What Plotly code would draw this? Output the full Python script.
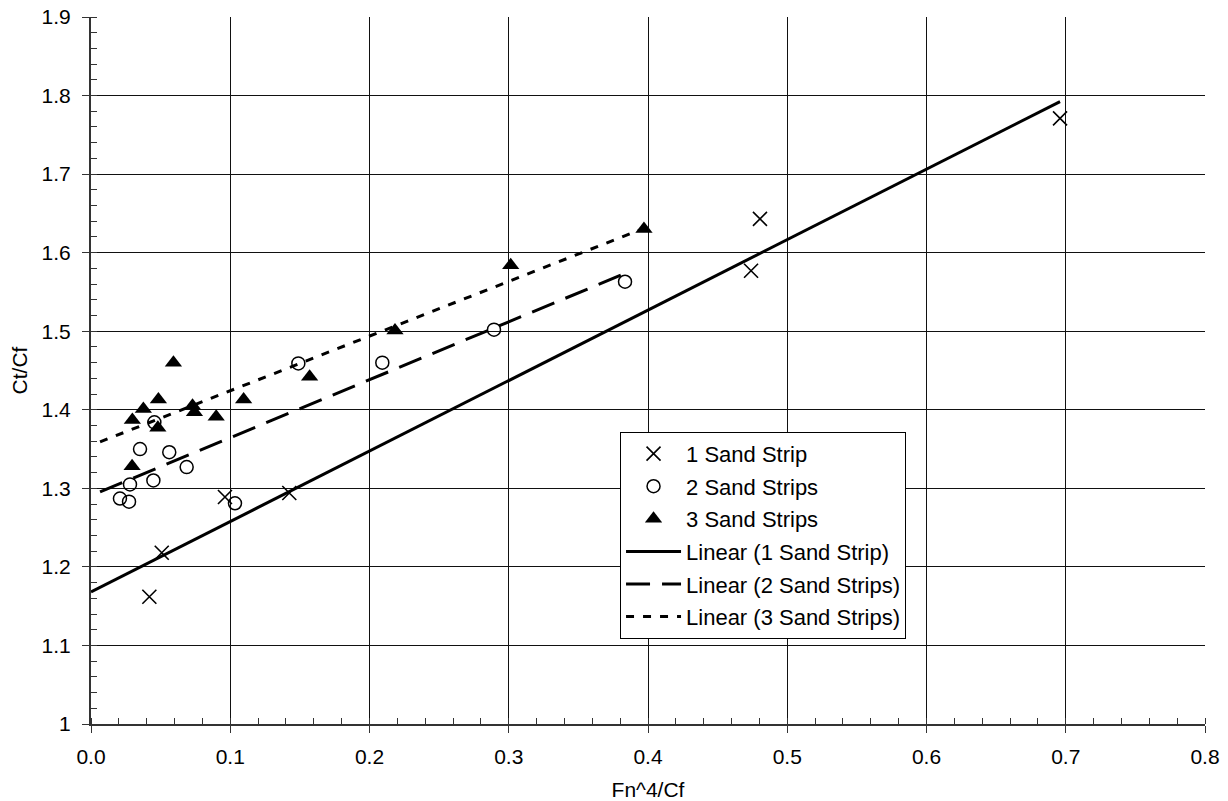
import numpy as np
import plotly.graph_objects as go

# ---- data ----
x1 = [0.0419, 0.0508, 0.0962, 0.1424, 0.4740, 0.4804, 0.6959]
y1 = [1.162, 1.218, 1.289, 1.294, 1.577, 1.643, 1.771]

x2 = [0.0208, 0.0273, 0.0280, 0.0352, 0.0455, 0.0448, 0.0562, 0.0687,
      0.1034, 0.1489, 0.2092, 0.2894, 0.3835]
y2 = [1.287, 1.283, 1.305, 1.350, 1.384, 1.310, 1.346, 1.327,
      1.281, 1.459, 1.460, 1.502, 1.563]

x3 = [0.0295, 0.0297, 0.0376, 0.0480, 0.0484, 0.0592, 0.0729, 0.0743,
      0.0899, 0.1096, 0.1570, 0.2183, 0.3014, 0.3971]
y3 = [1.328, 1.387, 1.401, 1.377, 1.413, 1.460, 1.405, 1.397,
      1.391, 1.413, 1.442, 1.501, 1.584, 1.630]

series_names = ["1 Sand Strip", "2 Sand Strips", "3 Sand Strips"]
trend_start = [0.0, 0.0065, 0.0065]   # where each trendline begins

x_ticks = [0.0, 0.1, 0.2, 0.3, 0.4, 0.5, 0.6, 0.7, 0.8]
y_ticks = [1.0, 1.1, 1.2, 1.3, 1.4, 1.5, 1.6, 1.7, 1.8, 1.9]

FONT = "Liberation Sans, Arial, sans-serif"
fig = go.Figure()

xs = [x1, x2, x3]
ys = [y1, y2, y3]
markers = [
    dict(symbol="x-thin-open", size=14, color="black", line=dict(width=1.6, color="black")),
    dict(symbol="circle-open", size=13, color="black", line=dict(width=1.5, color="black")),
    dict(symbol="triangle-up", size=15, color="black", line=dict(width=0)),
]
for i in range(3):
    fig.add_trace(go.Scatter(x=xs[i], y=ys[i], mode="markers", name=series_names[i],
                             marker=markers[i], legendgroup=f"g{i}"))

dashes = ["solid", "24px,12px", "8px,9px"]
for i in range(3):
    slope, intercept = np.polyfit(xs[i], ys[i], 1)
    tx = np.array([trend_start[i], max(xs[i])])
    ty = intercept + slope * tx
    fig.add_trace(go.Scatter(x=tx, y=ty, mode="lines",
                             name=f"Linear ({series_names[i]})",
                             line=dict(color="black", width=3, dash=dashes[i]),
                             legendgroup=f"h{i}"))

fig.update_layout(
    width=1228, height=801,
    margin=dict(l=91, r=23, t=17, b=77),
    paper_bgcolor="white", plot_bgcolor="white",
    font=dict(family=FONT, size=21, color="black"),
    showlegend=True,
    legend=dict(x=0.4749, y=0.4133, xanchor="left", yanchor="top",
                bgcolor="white", bordercolor="black", borderwidth=1,
                font=dict(size=22), tracegroupgap=1, itemwidth=55),
)
fig.update_xaxes(
    range=[0, 0.8], tickvals=x_ticks, tickformat=".1f",
    showgrid=True, gridcolor="#111", gridwidth=1,
    showline=True, linecolor="#333", linewidth=2, mirror=False,
    ticks="outside", ticklen=7, tickcolor="#333", tickwidth=1,
    ticklabelstandoff=6, ticklabeloverflow="allow",
    minor=dict(dtick=0.02, ticks="inside", ticklen=6, tickcolor="#333", showgrid=False),
    zeroline=False, automargin=False,
    title=dict(text="Fn^4/Cf", font=dict(size=21), standoff=20),
)
fig.update_yaxes(
    range=[1.0, 1.9], tickvals=y_ticks,
    ticktext=[f"{v:g}" for v in y_ticks],
    showgrid=True, gridcolor="#111", gridwidth=1,
    showline=True, linecolor="#333", linewidth=2, mirror=False,
    ticks="outside", ticklen=7, tickcolor="#333", tickwidth=1,
    ticklabelstandoff=7, ticklabeloverflow="allow",
    minor=dict(dtick=0.02, ticks="inside", ticklen=6, tickcolor="#333", showgrid=False),
    zeroline=False, automargin=False,
    title=dict(text="Ct/Cf", font=dict(size=21), standoff=8),
)
# remove the default 8px page margin so the figure sits at the window origin
fig.write_html("out.html", config={"displayModeBar": False},
               post_script="document.body.style.margin='0px';")
